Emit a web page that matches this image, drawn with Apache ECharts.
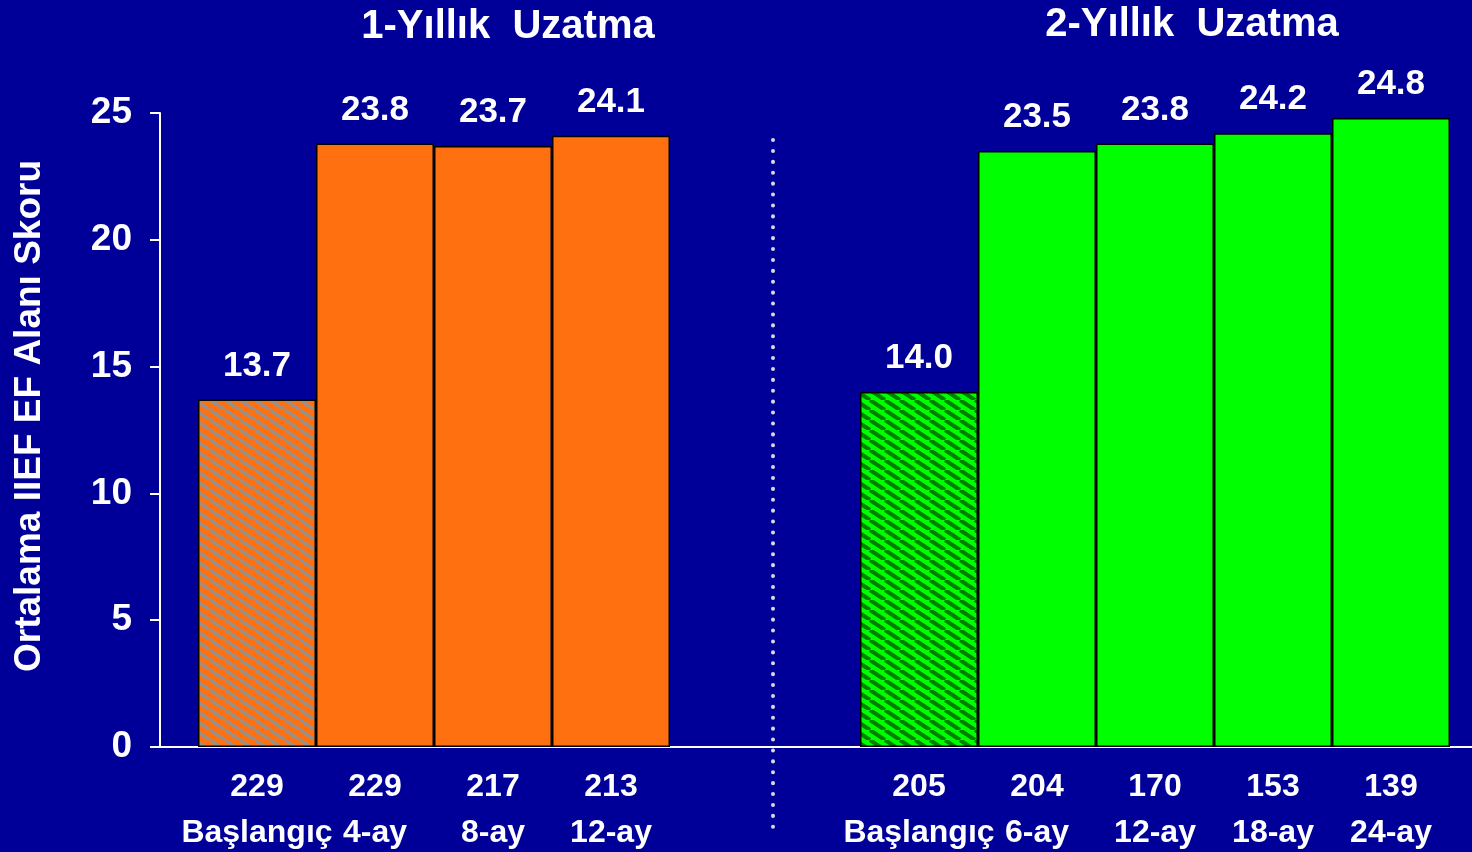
<!DOCTYPE html>
<html>
<head>
<meta charset="utf-8">
<script src="https://cdn.jsdelivr.net/npm/echarts@6/dist/echarts.min.js"></script>
<style>
  html, body { margin: 0; padding: 0; background: #000099; }
  #chart { width: 1472px; height: 852px; }
</style>
</head>
<body>
<div id="chart"></div>
<script>
// 1-year extension
const categories1 = ['Başlangıç', '4-ay', '8-ay', '12-ay'];
const counts1 = ['229', '229', '217', '213'];
const values1 = [13.7, 23.8, 23.7, 24.1];

// 2-year extension
const categories2 = ['Başlangıç', '6-ay', '12-ay', '18-ay', '24-ay'];
const counts2 = ['205', '204', '170', '153', '139'];
const values2 = [14.0, 23.5, 23.8, 24.2, 24.8];

const groupTitles = ['1-Yıllık  Uzatma', '2-Yıllık  Uzatma'];
const yName = 'Ortalama IIEF EF Alanı Skoru';
const yMin = 0, yMax = 25, yStep = 5;

const FONT = '"Liberation Sans", Arial, sans-serif';
const ORANGE = '#FF7010';
const GREEN = '#00FF00';

// diagonal stripes for the baseline bars
function hatch(bg, stripe, w) {
  const tw = 15, th = 10;
  const c = document.createElement('canvas');
  c.width = tw; c.height = th;
  const ctx = c.getContext('2d');
  ctx.fillStyle = bg;
  ctx.fillRect(0, 0, tw, th);
  ctx.strokeStyle = stripe;
  ctx.lineWidth = w;
  [-tw, 0, tw].forEach(k => {
    ctx.beginPath();
    ctx.moveTo(k, 0);
    ctx.lineTo(k + tw, th);
    ctx.stroke();
  });
  return { image: c, repeat: 'repeat' };
}

function barData(values, base, pattern) {
  return values.map((v, i) => ({
    value: v,
    itemStyle: { color: i === 0 ? pattern : base }
  }));
}

const TOP = 113, BOTTOM = 105;

function catAxis(gridIndex, cats, counts) {
  return {
    type: 'category',
    gridIndex: gridIndex,
    data: cats,
    axisLine: { show: false },
    axisTick: { show: false },
    axisLabel: {
      interval: 0,
      margin: 17,
      formatter: (val, idx) => '{n|' + counts[idx] + '}\n{t|' + val + '}',
      rich: {
        n: { color: '#fff', fontFamily: FONT, fontWeight: 'bold', fontSize: 32, lineHeight: 46 },
        t: { color: '#fff', fontFamily: FONT, fontWeight: 'bold', fontSize: 32, lineHeight: 46 }
      }
    }
  };
}

const valueLabel = {
  show: true,
  position: 'top',
  distance: 16,
  color: '#fff',
  fontFamily: FONT,
  fontWeight: 'bold',
  fontSize: 35,
  formatter: p => p.value.toFixed(1)
};

const chart = echarts.init(document.getElementById('chart'));
chart.setOption({
  backgroundColor: '#000099',
  animation: false,
  title: [
    { text: groupTitles[0], left: 503, top: 2, textAlign: 'center',
      textStyle: { color: '#fff', fontFamily: FONT, fontWeight: 'bold', fontSize: 40 } },
    { text: groupTitles[1], left: 1187, top: 0, textAlign: 'center',
      textStyle: { color: '#fff', fontFamily: FONT, fontWeight: 'bold', fontSize: 40 } }
  ],
  grid: [
    { left: 160, right: 0, top: TOP, bottom: BOTTOM },
    { left: 198, width: 472, top: TOP, bottom: BOTTOM },
    { left: 860, width: 590, top: TOP, bottom: BOTTOM }
  ],
  xAxis: [
    {
      type: 'value', gridIndex: 0, min: 0, max: 1,
      axisLine: { show: true, lineStyle: { color: '#fff', width: 2 } },
      axisTick: { show: false }, axisLabel: { show: false }, splitLine: { show: false }
    },
    catAxis(1, categories1, counts1),
    catAxis(2, categories2, counts2)
  ],
  yAxis: [
    {
      type: 'value', gridIndex: 0, min: yMin, max: yMax, interval: yStep,
      name: yName,
      nameLocation: 'middle',
      nameGap: 112,
      nameTextStyle: { color: '#fff', fontFamily: FONT, fontWeight: 'bold', fontSize: 37, padding: [0, 0, 0, 28] },
      axisLine: { show: true, lineStyle: { color: '#fff', width: 2 } },
      axisTick: { show: true, length: 10, lineStyle: { color: '#fff', width: 2 } },
      axisLabel: { color: '#fff', fontFamily: FONT, fontWeight: 'bold', fontSize: 37, margin: 28 },
      splitLine: { show: false }
    },
    { type: 'value', gridIndex: 1, min: yMin, max: yMax, show: false },
    { type: 'value', gridIndex: 2, min: yMin, max: yMax, show: false }
  ],
  graphic: [
    {
      type: 'line',
      shape: { x1: 773, y1: 140, x2: 773, y2: 830 },
      style: { stroke: '#d8d8e0', lineWidth: 4, lineDash: [0.1, 10.8], lineCap: 'round' },
      z: 10
    }
  ],
  series: [
    {
      type: 'bar', xAxisIndex: 1, yAxisIndex: 1,
      barCategoryGap: '0%',
      data: barData(values1, ORANGE, hatch(ORANGE, '#9a9088', 3.5)),
      itemStyle: { borderColor: '#000', borderWidth: 1.5 },
      label: valueLabel
    },
    {
      type: 'bar', xAxisIndex: 2, yAxisIndex: 2,
      barCategoryGap: '0%',
      data: barData(values2, GREEN, hatch(GREEN, '#008000', 4)),
      itemStyle: { borderColor: '#000', borderWidth: 1.5 },
      label: valueLabel
    }
  ]
});
</script>
</body>
</html>
